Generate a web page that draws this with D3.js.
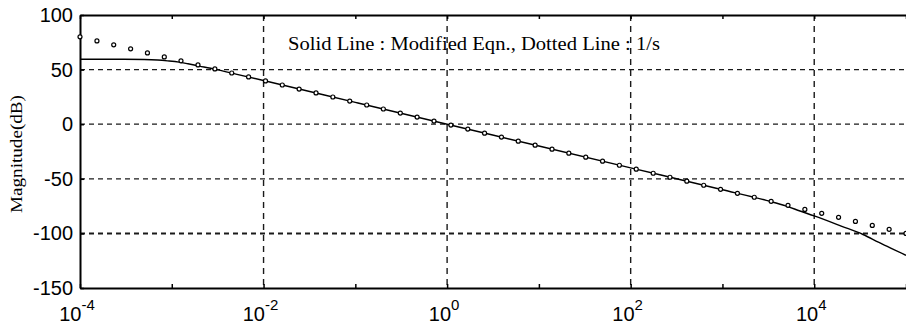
<!DOCTYPE html>
<html>
<head>
<meta charset="utf-8">
<script src="https://cdn.jsdelivr.net/npm/d3@7"></script>
<style>
  body { margin: 0; background: #fff; }
  svg { display: block; }
</style>
</head>
<body>
<svg id="bode"></svg>
<script>
// Bode magnitude plot: modified equation (solid) vs 1/s (markers)

let W = 906, H = 325;
let margin = { top: 15, right: 0, bottom: 38, left: 80 };

// dotted 1/s series (frequency, dB)
let dotFreq = [1.0e-4, 1.53e-4, 2.33e-4, 3.56e-4, 5.43e-4, 8.29e-4, 1.26e-3, 1.93e-3, 2.95e-3, 4.50e-3,
  6.87e-3, 1.05e-2, 1.60e-2, 2.44e-2, 3.73e-2, 5.69e-2, 8.69e-2, 0.133, 0.202, 0.309,
  0.471, 0.720, 1.10, 1.68, 2.56, 3.91, 5.96, 9.10, 13.9, 21.2,
  32.4, 49.4, 75.4, 115, 176, 268, 409, 625, 954, 1456,
  2223, 3393, 5179, 7906, 12068, 18421, 28118, 42919, 65513, 100000];
let dotDB = [80, 76.3, 72.7, 69.0, 65.3, 61.6, 58.0, 54.3, 50.6, 46.9,
  43.3, 39.6, 35.9, 32.2, 28.6, 24.9, 21.2, 17.6, 13.9, 10.2,
  6.5, 2.9, -0.8, -4.5, -8.2, -11.8, -15.5, -19.2, -22.9, -26.5,
  -30.2, -33.9, -37.6, -41.2, -44.9, -48.6, -52.2, -55.9, -59.6, -63.3,
  -66.9, -70.6, -74.3, -78.0, -81.6, -85.3, -89.0, -92.7, -96.3, -100];

// solid modified equation curve (frequency, dB)
let solidFreq = [1e-4, 3e-4, 5e-4, 7e-4, 9e-4, 1.2e-3, 1.5e-3, 2e-3, 3e-3, 5e-3,
  1e-2, 1e-1, 1, 10, 100, 1000, 3000, 5000, 7000, 1e4,
  2e4, 3.4e4, 5e4, 7e4, 1e5];
let solidDB = [59.5, 59.5, 59.3, 58.8, 58.0, 56.8, 55.3, 53.2, 50.2, 45.9,
  40, 20, 0, -20, -40, -60, -69.8, -75, -79.5, -84,
  -93.5, -101, -108, -114, -120];

let xTicks = [1e-4, 1e-3, 1e-2, 1e-1, 1, 10, 100, 1000, 1e4, 1e5];
let xLabelExp = [-4, -2, 0, 2, 4];
let xGrid = [1e-2, 1, 1e2, 1e4];
let yTicks = [-150, -100, -50, 0, 50, 100];
let yGrid = [-100, -50, 0, 50];

let legendText = 'Solid Line : Modified Eqn., Dotted Line : 1/s';
let yTitle = 'Magnitude(dB)';

let svg = d3.select('#bode')
  .attr('width', W)
  .attr('height', H);

let xScale = d3.scaleLog()
  .domain([1e-4, 1e5])
  .range([margin.left, W - margin.right]);

let yScale = d3.scaleLinear()
  .domain([-150, 100])
  .range([H - margin.bottom + 1, margin.top]);

//GRID
svg.append('g')
  .selectAll('line')
  .data(yGrid)
  .enter()
  .append('line')
  .attr('x1', margin.left)
  .attr('x2', W)
  .attr('y1', (d) => yScale(d))
  .attr('y2', (d) => yScale(d))
  .attr('stroke', '#1a1a1a')
  .attr('stroke-width', (d) => d == -100 ? 2 : 1.2)
  .attr('stroke-dasharray', '5,4');

svg.append('g')
  .selectAll('line')
  .data(xGrid)
  .enter()
  .append('line')
  .attr('x1', (d) => xScale(d))
  .attr('x2', (d) => xScale(d))
  .attr('y1', yScale(100))
  .attr('y2', yScale(-150))
  .attr('stroke', '#1a1a1a')
  .attr('stroke-width', 1.4)
  .attr('stroke-dasharray', '6,5');

//AXES
let xAxis = d3.axisBottom(xScale)
  .tickValues(xTicks)
  .tickSizeInner(-4)
  .tickSizeOuter(0)
  .tickFormat('');
svg.append('g')
  .attr('transform', `translate(0, ${yScale(-150)})`)
  .call(xAxis);

let xTop = d3.axisTop(xScale)
  .tickValues(xTicks)
  .tickSizeInner(-4)
  .tickSizeOuter(0)
  .tickFormat('');
svg.append('g')
  .attr('transform', `translate(0, ${yScale(100)})`)
  .call(xTop);

let yAxis = d3.axisLeft(yScale)
  .tickValues(yTicks)
  .tickSizeInner(-4)
  .tickSizeOuter(0)
  .tickPadding(7)
  .tickFormat((d) => String(d));
let yAxisGroup = svg.append('g')
  .attr('transform', `translate(${margin.left}, 0)`)
  .call(yAxis);

svg.selectAll('.domain')
  .attr('stroke', '#000')
  .attr('stroke-width', 2);
svg.selectAll('.tick line')
  .attr('stroke', '#000')
  .attr('stroke-width', 1.5);

yAxisGroup.selectAll('text')
  .attr('font-family', 'Liberation Sans, Arial, sans-serif')
  .attr('font-size', 20)
  .attr('fill', '#000');

// power-of-ten labels
let xLab = svg.append('g')
  .selectAll('text')
  .data(xLabelExp)
  .enter()
  .append('text')
  .attr('x', (d) => xScale(Math.pow(10, d)) - 3)
  .attr('y', 321)
  .attr('text-anchor', 'middle')
  .attr('font-family', 'Liberation Sans, Arial, sans-serif')
  .attr('font-size', 20)
  .attr('fill', '#000');
xLab.append('tspan').text('10');
xLab.append('tspan')
  .attr('dy', -11)
  .attr('font-size', 15)
  .text((d) => String(d));

//CURVES
let line = d3.line()
  .x((d) => xScale(d[0]))
  .y((d) => yScale(d[1]))
  .curve(d3.curveMonotoneX);

svg.append('path')
  .datum(d3.zip(solidFreq, solidDB))
  .attr('d', line)
  .attr('fill', 'none')
  .attr('stroke', '#000')
  .attr('stroke-width', 1.4);

svg.append('g')
  .selectAll('circle')
  .data(d3.zip(dotFreq, dotDB))
  .enter()
  .append('circle')
  .attr('cx', (d) => xScale(d[0]))
  .attr('cy', (d) => yScale(d[1]))
  .attr('r', 2)
  .attr('fill', '#fff')
  .attr('stroke', '#000')
  .attr('stroke-width', 1.2);

//LABELS
svg.append('text')
  .attr('x', 288)
  .attr('y', 50)
  .attr('font-family', 'Liberation Serif, Times New Roman, serif')
  .attr('font-size', 19)
  .attr('textLength', 372)
  .attr('lengthAdjust', 'spacingAndGlyphs')
  .attr('fill', '#000')
  .text(legendText);

svg.append('text')
  .attr('transform', 'translate(22, 154) rotate(-90)')
  .attr('text-anchor', 'middle')
  .attr('font-family', 'Liberation Serif, Times New Roman, serif')
  .attr('font-size', 17)
  .attr('textLength', 118)
  .attr('lengthAdjust', 'spacingAndGlyphs')
  .attr('fill', '#000')
  .text(yTitle);
</script>
</body>
</html>
